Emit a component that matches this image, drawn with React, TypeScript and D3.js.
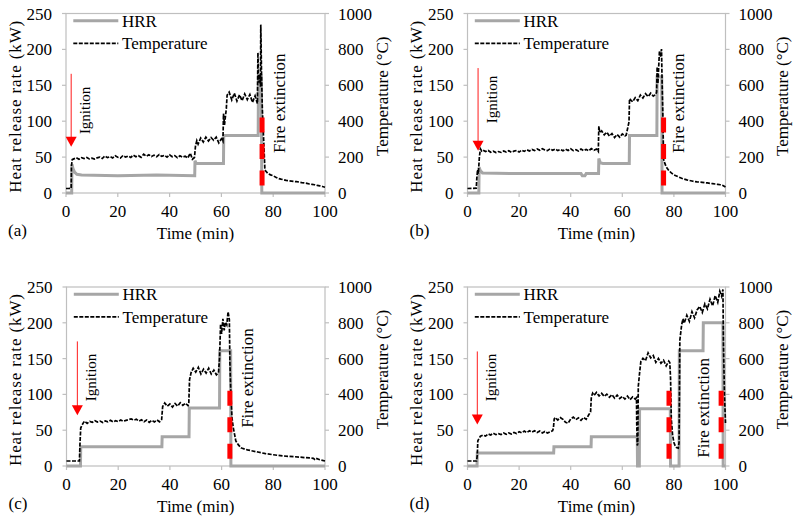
import React from 'react';
import * as d3 from 'd3';

type Pt = [number, number];

// ---------- tick values ----------
const timeTicks = [0, 20, 40, 60, 80, 100];
const hrrTicks = [0, 50, 100, 150, 200, 250];
const tempTicks = [0, 200, 400, 600, 800, 1000];

// ---------- labels ----------
const panelLabels = ['(a)', '(b)', '(c)', '(d)'];
const xTitle = 'Time (min)';
const yLeftTitle = 'Heat release rate (kW)';
const yRightTitle = 'Temperature (°C)';
const legendNames = ['HRR', 'Temperature'];

// ---------- HRR series (kW) ----------
const hrrA: Pt[] = [[0,0],[2.2,0],[2.3,40],[2.7,34],[3.3,29],[4.2,26],[6,25],[20,24],[35,25],[49.7,24],[49.8,45],[50.3,41],[60.8,41],[60.9,80],[74.2,80],[74.3,163],[75.4,163],[75.6,0],[100,0]];
const hrrB: Pt[] = [[0,0],[4.4,0],[4.5,36],[5,31],[5.8,28],[20,27],[44,27],[44.5,24],[45.5,24],[46,27],[50.8,27],[50.9,48],[51.5,42],[52.5,41],[62.7,41],[62.8,80],[73.4,80],[73.5,162],[75.3,162],[75.4,0],[100,0]];
const hrrC: Pt[] = [[0,0],[5.4,0],[5.5,27],[36.9,27],[37,41],[47.4,41],[47.5,81],[59.2,81],[59.3,161],[63.5,161],[63.6,0],[100,0]];
const hrrD: Pt[] = [[0,0],[3.7,0],[3.8,18],[33.4,18],[33.5,27],[47.9,27],[48,41],[65.8,41],[65.9,0],[66.6,0],[66.7,80],[78.6,80],[78.7,0],[82,0],[82.1,161],[91.3,161],[91.4,200],[99,200],[99.1,0],[100,0]];

// ---------- Temperature series (°C) ----------
const tempA: Pt[] = [[0,25],[1,25],[2.0,26],[2.1,150],[2.4,186],[3,190],[4,196],[5,188],[6,197],[7,192],[8,198],[9,190],[10,194],[11,189],[12,196],[13,200],[14,192],[15,206],[16,197],[17,203],[18,195],[19,207],[20,199],[21,195],[22,209],[23,200],[24,206],[25,198],[26,211],[27,202],[28,208],[29,199],[30,216],[31,205],[32,213],[33,203],[34,211],[35,202],[36,214],[37,204],[38,210],[39,200],[40,213],[41,202],[42,208],[43,197],[44,207],[45,199],[46,205],[47,195],[48,222],[48.8,188],[49.6,198],[50,262],[50.5,292],[51,272],[52,306],[53,284],[54,311],[55,290],[56,309],[57,294],[58,311],[59,279],[60,302],[60.6,288],[60.8,442],[61.2,380],[61.9,470],[62.2,545],[63,562],[64,518],[65,556],[66,512],[67,547],[68,514],[69,552],[70,520],[71,549],[72,505],[73,541],[73.9,498],[74.1,782],[74.4,615],[74.8,662],[75.1,592],[75.2,938],[75.3,858],[75.5,655],[75.8,470],[76.3,300],[76.8,128],[77.5,116],[78,108],[79,101],[80,96],[81,88],[82,81],[83,77],[84,74],[85,70],[86,68],[87,66],[88,64],[89,63],[90,61],[91,58],[92,56],[93,54],[94,50],[95,48],[96,46],[97,42],[98,40],[99,36],[100,32]];
const tempB: Pt[] = [[0,25],[3.4,27],[3.6,80],[3.9,130],[4.2,108],[4.6,200],[5,246],[5.5,234],[6,239],[7,231],[8,237],[9,227],[10,233],[11,225],[12,231],[13,226],[14,234],[15,228],[16,235],[17,227],[18,233],[19,237],[20,228],[21,239],[22,232],[23,241],[24,234],[25,243],[26,236],[27,245],[28,238],[29,247],[30,240],[31,236],[32,246],[33,238],[34,245],[35,236],[36,243],[37,235],[38,244],[39,237],[40,246],[41,236],[42,241],[43,234],[44,245],[45,236],[46,243],[47,235],[48,247],[49,238],[50,245],[50.7,231],[50.9,372],[51.3,336],[52,346],[53,324],[54,339],[55,317],[56,331],[57,309],[58,326],[59,311],[60,329],[61,318],[61.5,322],[62.6,396],[62.8,525],[63.5,515],[64,508],[65,531],[66,514],[67,546],[68,529],[69,553],[70,537],[71,556],[72,540],[73,549],[73.3,562],[73.5,702],[73.8,610],[74.4,792],[74.8,758],[75.2,802],[75.4,638],[75.7,448],[76,188],[76.5,165],[77,146],[78,126],[79,112],[80,101],[81,95],[82,88],[83,82],[84,77],[85,73],[86,70],[87,67],[88,64],[89,62],[90,61],[91,59],[92,57],[93,56],[94,54],[95,52],[96,50],[97,48],[98,46],[99,42],[100,33]];
const tempC: Pt[] = [[0,28],[5,28],[5.2,120],[5.5,212],[6,228],[6.5,241],[7,251],[8,238],[9,249],[10,244],[11,253],[12,246],[13,251],[14,243],[15,252],[16,247],[17,255],[18,246],[19,253],[20,248],[21,257],[22,250],[23,255],[24,259],[25,263],[26,256],[27,261],[28,251],[29,258],[30,247],[31,257],[32,244],[33,255],[34,246],[35,257],[36,247],[36.8,259],[37.2,332],[38,352],[39,334],[40,346],[41,329],[42,349],[43,334],[44,353],[45,339],[46,351],[47,337],[47.3,346],[47.6,482],[48.2,522],[49,546],[50,524],[51,551],[52,514],[53,541],[54,519],[55,546],[56,514],[57,536],[58,509],[58.8,521],[59.2,602],[59.6,792],[60,738],[60.5,822],[61,758],[61.5,803],[62,788],[62.5,862],[63,818],[63.2,580],[63.5,440],[64,272],[64.5,215],[65,178],[65.5,140],[66.5,118],[67.5,102],[68,99],[69,94],[70,90],[72,84],[74,78],[77,69],[80,63],[82,59],[84,56],[86,54],[88,52],[90,50],[92,47],[94,45],[95.5,43],[96,37],[96.5,43],[98,35],[100,28]];
const tempD: Pt[] = [[0,28],[3.5,28],[3.8,60],[4,140],[4.5,155],[5,166],[6,173],[7,167],[8,179],[9,173],[10,183],[11,175],[12,181],[13,176],[14,184],[15,177],[16,185],[17,179],[18,187],[19,181],[20,191],[21,185],[22,195],[23,187],[24,197],[25,189],[26,197],[27,187],[28,195],[29,185],[30,193],[31,184],[32,191],[33,197],[33.3,212],[33.6,262],[34,271],[35,257],[36,270],[37,261],[38,244],[39,239],[40,263],[41,273],[42,259],[43,269],[44,255],[45,271],[46,261],[47,286],[47.7,302],[48,386],[48.5,406],[49,394],[50,411],[51,391],[52,406],[53,389],[54,401],[55,384],[56,399],[57,379],[58,396],[59,377],[60,389],[61,374],[62,391],[63,371],[64,386],[65,374],[65.5,382],[65.6,235],[65.8,115],[66,125],[66.2,445],[66.7,520],[67.2,585],[68,602],[69,588],[70,632],[71,604],[72,617],[73,579],[74,601],[75,574],[76,591],[77,559],[78,586],[78.4,578],[78.7,492],[79,262],[79.5,172],[80,131],[80.5,113],[81,103],[81.7,100],[82,132],[82.3,702],[83,788],[83.5,822],[84,798],[85,842],[86,808],[87,862],[88,828],[89,872],[90,892],[91,858],[92,906],[93,878],[94,932],[95,894],[96,952],[97,914],[97.8,976],[98.5,948],[99,986],[99.2,690],[99.6,400],[100,240]];

const hrrSeries = [hrrA, hrrB, hrrC, hrrD];
const tempSeries = [tempA, tempB, tempC, tempD];

// ---------- events ----------
const ignitionTimes = [2.0, 4.1, 4.2, 3.8];
const extinctionTimes = [[75.7], [76.0], [63.2], [78.1, 98.3]];

// ---------- layout (pixels / annotation anchors) ----------
const boxes = [
  { left: 66, right: 325, top: 13.5, bottom: 193 },
  { left: 467.5, right: 725.5, top: 13.5, bottom: 193 },
  { left: 66.5, right: 325, top: 287, bottom: 466 },
  { left: 467.5, right: 725.5, top: 287, bottom: 466 },
];
const arrowTop = [166, 174, 174, 160];
const arrowTip = [64.5, 59, 71, 58];
const ignTextBottom = [82, 97, 90.5, 90.5];
const fireTextT = [84.4, 84.1, 72.3, 93.6];
const fireTextBottom = [55.7, 55.7, 53.3, 11.6];
const redTop = 105;

const FONT = "'Liberation Serif', 'Times New Roman', Times, serif";
const FS = 17;
const GRAY = '#a6a6a6';
const FRAME = '#bfbfbf';
const RED = '#ff0000';
const TXT: React.CSSProperties = { fontFamily: FONT };

function Panel({ i }: { i: number }) {
  const b = boxes[i];
  const x = d3.scaleLinear().domain([0, 100]).range([b.left, b.right]);
  const yH = d3.scaleLinear().domain([0, 250]).range([b.bottom, b.top]);
  const yT = d3.scaleLinear().domain([0, 1000]).range([b.bottom, b.top]);
  const lineH = d3.line<Pt>().x(d => x(d[0])).y(d => yH(d[1]));
  const lineT = d3.line<Pt>().x(d => x(d[0])).y(d => yT(d[1]));
  const midY = (b.top + b.bottom) / 2;
  const midX = (b.left + b.right) / 2;
  const ax = x(ignitionTimes[i]);
  const tipY = yH(arrowTip[i]);
  return (
    <g>
      <rect x={b.left} y={b.top} width={b.right - b.left} height={b.bottom - b.top} fill="none" stroke={FRAME} strokeWidth={1.2} />
      {hrrTicks.map(v => (
        <g key={'l' + v}>
          <line x1={b.left - 4} x2={b.left} y1={yH(v)} y2={yH(v)} stroke={FRAME} strokeWidth={1.2} />
          <text style={TXT} x={b.left - 14} y={yH(v) + 6} textAnchor="end" fontSize={FS}>{v}</text>
        </g>
      ))}
      {tempTicks.map(v => (
        <g key={'r' + v}>
          <line x1={b.right} x2={b.right + 4} y1={yT(v)} y2={yT(v)} stroke={FRAME} strokeWidth={1.2} />
          <text style={TXT} x={b.right + 13} y={yT(v) + 6} textAnchor="start" fontSize={FS}>{v}</text>
        </g>
      ))}
      {timeTicks.map(v => (
        <g key={'b' + v}>
          <line x1={x(v)} x2={x(v)} y1={b.bottom} y2={b.bottom + 4} stroke={FRAME} strokeWidth={1.2} />
          <text style={TXT} x={x(v)} y={b.bottom + 24} textAnchor="middle" fontSize={FS}>{v}</text>
        </g>
      ))}
      <path d={lineH(hrrSeries[i]) || ''} fill="none" stroke={GRAY} strokeWidth={3} />
      <path d={lineT(tempSeries[i]) || ''} fill="none" stroke="#000" strokeWidth={1.7} strokeDasharray="4 1.5" />
      {extinctionTimes[i].map((t, k) => (
        <line key={k} x1={x(t)} x2={x(t)} y1={yH(redTop)} y2={yH(0)} stroke={RED} strokeWidth={5} strokeDasharray="15 11.5" />
      ))}
      <line x1={ax} x2={ax} y1={yH(arrowTop[i])} y2={tipY - 9} stroke={RED} strokeWidth={0.9} />
      <path d={`M${ax - 5.5},${tipY - 10}L${ax + 5.5},${tipY - 10}L${ax},${tipY}Z`} fill={RED} />
      <text style={TXT} transform={`translate(${ax + 19},${yH(ignTextBottom[i])}) rotate(-90)`} fontSize={15}>Ignition</text>
      <text style={TXT} transform={`translate(${x(fireTextT[i])},${yH(fireTextBottom[i])}) rotate(-90)`} fontSize={FS}>Fire extinction</text>
      <line x1={b.left + 7.3} x2={b.left + 52.3} y1={b.top + 7.2} y2={b.top + 7.2} stroke={GRAY} strokeWidth={3} />
      <text style={TXT} x={b.left + 56} y={b.top + 13.2} fontSize={FS}>{legendNames[0]}</text>
      <line x1={b.left + 7.3} x2={b.left + 52.3} y1={b.top + 29.8} y2={b.top + 29.8} stroke="#000" strokeWidth={1.7} strokeDasharray="4 1.5" />
      <text style={TXT} x={b.left + 56} y={b.top + 35.8} fontSize={FS}>{legendNames[1]}</text>
      <text style={TXT} x={midX} y={b.bottom + 46} textAnchor="middle" fontSize={FS}>{xTitle}</text>
      <text style={TXT} x={b.left - 58} y={b.bottom + 43} fontSize={FS}>{panelLabels[i]}</text>
      <text style={TXT} transform={`translate(${b.left - 45.3},${midY + 3.5}) rotate(-90)`} textAnchor="middle" fontSize={FS} textLength={172} lengthAdjust="spacing">{yLeftTitle}</text>
      <text style={TXT} transform={`translate(${b.right + 62.5},${midY - 7}) rotate(-90)`} textAnchor="middle" fontSize={FS}>{yRightTitle}</text>
    </g>
  );
}

export default function App() {
  return (
    <svg width={800} height={522} style={{ position: 'absolute', left: 0, top: 0, background: '#fff' }} fill="#000">
      <rect width={800} height={522} fill="#fff" />
      {[0, 1, 2, 3].map(i => <Panel key={i} i={i} />)}
    </svg>
  );
}
